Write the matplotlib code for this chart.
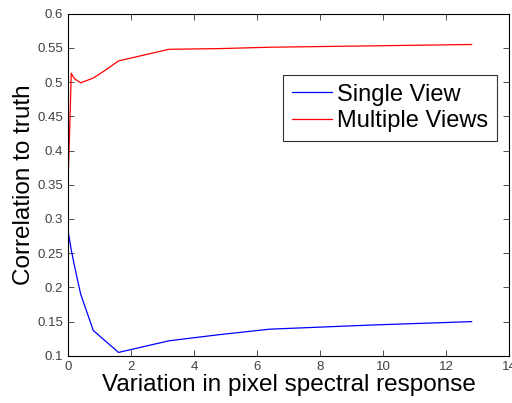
import numpy as np
import matplotlib
matplotlib.use('Agg')
import matplotlib.pyplot as plt

plt.rcParams['font.family'] = ['Liberation Sans', 'DejaVu Sans']

# variation values (x) and correlation for each method
x_single = [0, 0.1, 0.2, 0.4, 0.8, 1.6, 3.2, 4.8, 6.4, 9.6, 12.8]
y_single = [0.282, 0.255, 0.232, 0.19, 0.137, 0.105, 0.122, 0.131, 0.139, 0.145, 0.150]

x_multi = [0, 0.05, 0.1, 0.2, 0.4, 0.8, 1.2, 1.6, 3.2, 4.8, 6.4, 9.6, 12.8]
y_multi = [0.357, 0.43, 0.513, 0.505, 0.499, 0.506, 0.518, 0.531, 0.548, 0.549, 0.551, 0.553, 0.555]

xticks = [0, 2, 4, 6, 8, 10, 12, 14]
yticks = [0.1, 0.15, 0.2, 0.25, 0.3, 0.35, 0.4, 0.45, 0.5, 0.55, 0.6]

fig = plt.figure(figsize=(5.12, 4.03), dpi=100)
ax = fig.add_axes([0.133, 0.117, 0.862, 0.849])

ax.plot(x_single, y_single, '-', color='#0000ff', linewidth=0.9, label='Single View')
ax.plot(x_multi, y_multi, '-', color='#ff0000', linewidth=0.9, label='Multiple Views')

ax.set_xlim(0, 14)
ax.set_ylim(0.1, 0.6)
ax.set_xticks(xticks)
ax.set_yticks(yticks)
ax.set_xticklabels([str(t) for t in xticks])
ax.set_yticklabels([('%g' % t) for t in yticks])
ax.tick_params(direction='in', top=True, right=True, length=4, width=0.6,
               labelsize=9.5, colors='#333333', labelcolor='#404040')
for s in ax.spines.values():
    s.set_linewidth(0.8)

ax.set_xlabel('Variation in pixel spectral response', fontsize=17.5, labelpad=1)
ax.set_ylabel('Correlation to truth', fontsize=17.5, labelpad=2)

leg = ax.legend(loc='upper left', bbox_to_anchor=(0.4875, 0.8216), fontsize=17,
                frameon=True, fancybox=False, edgecolor='black', borderpad=0.38,
                handlelength=1.7, handletextpad=0.2, labelspacing=0.2,
                borderaxespad=0)
leg.get_frame().set_linewidth(0.8)

fig.savefig('out.png', dpi=100)
